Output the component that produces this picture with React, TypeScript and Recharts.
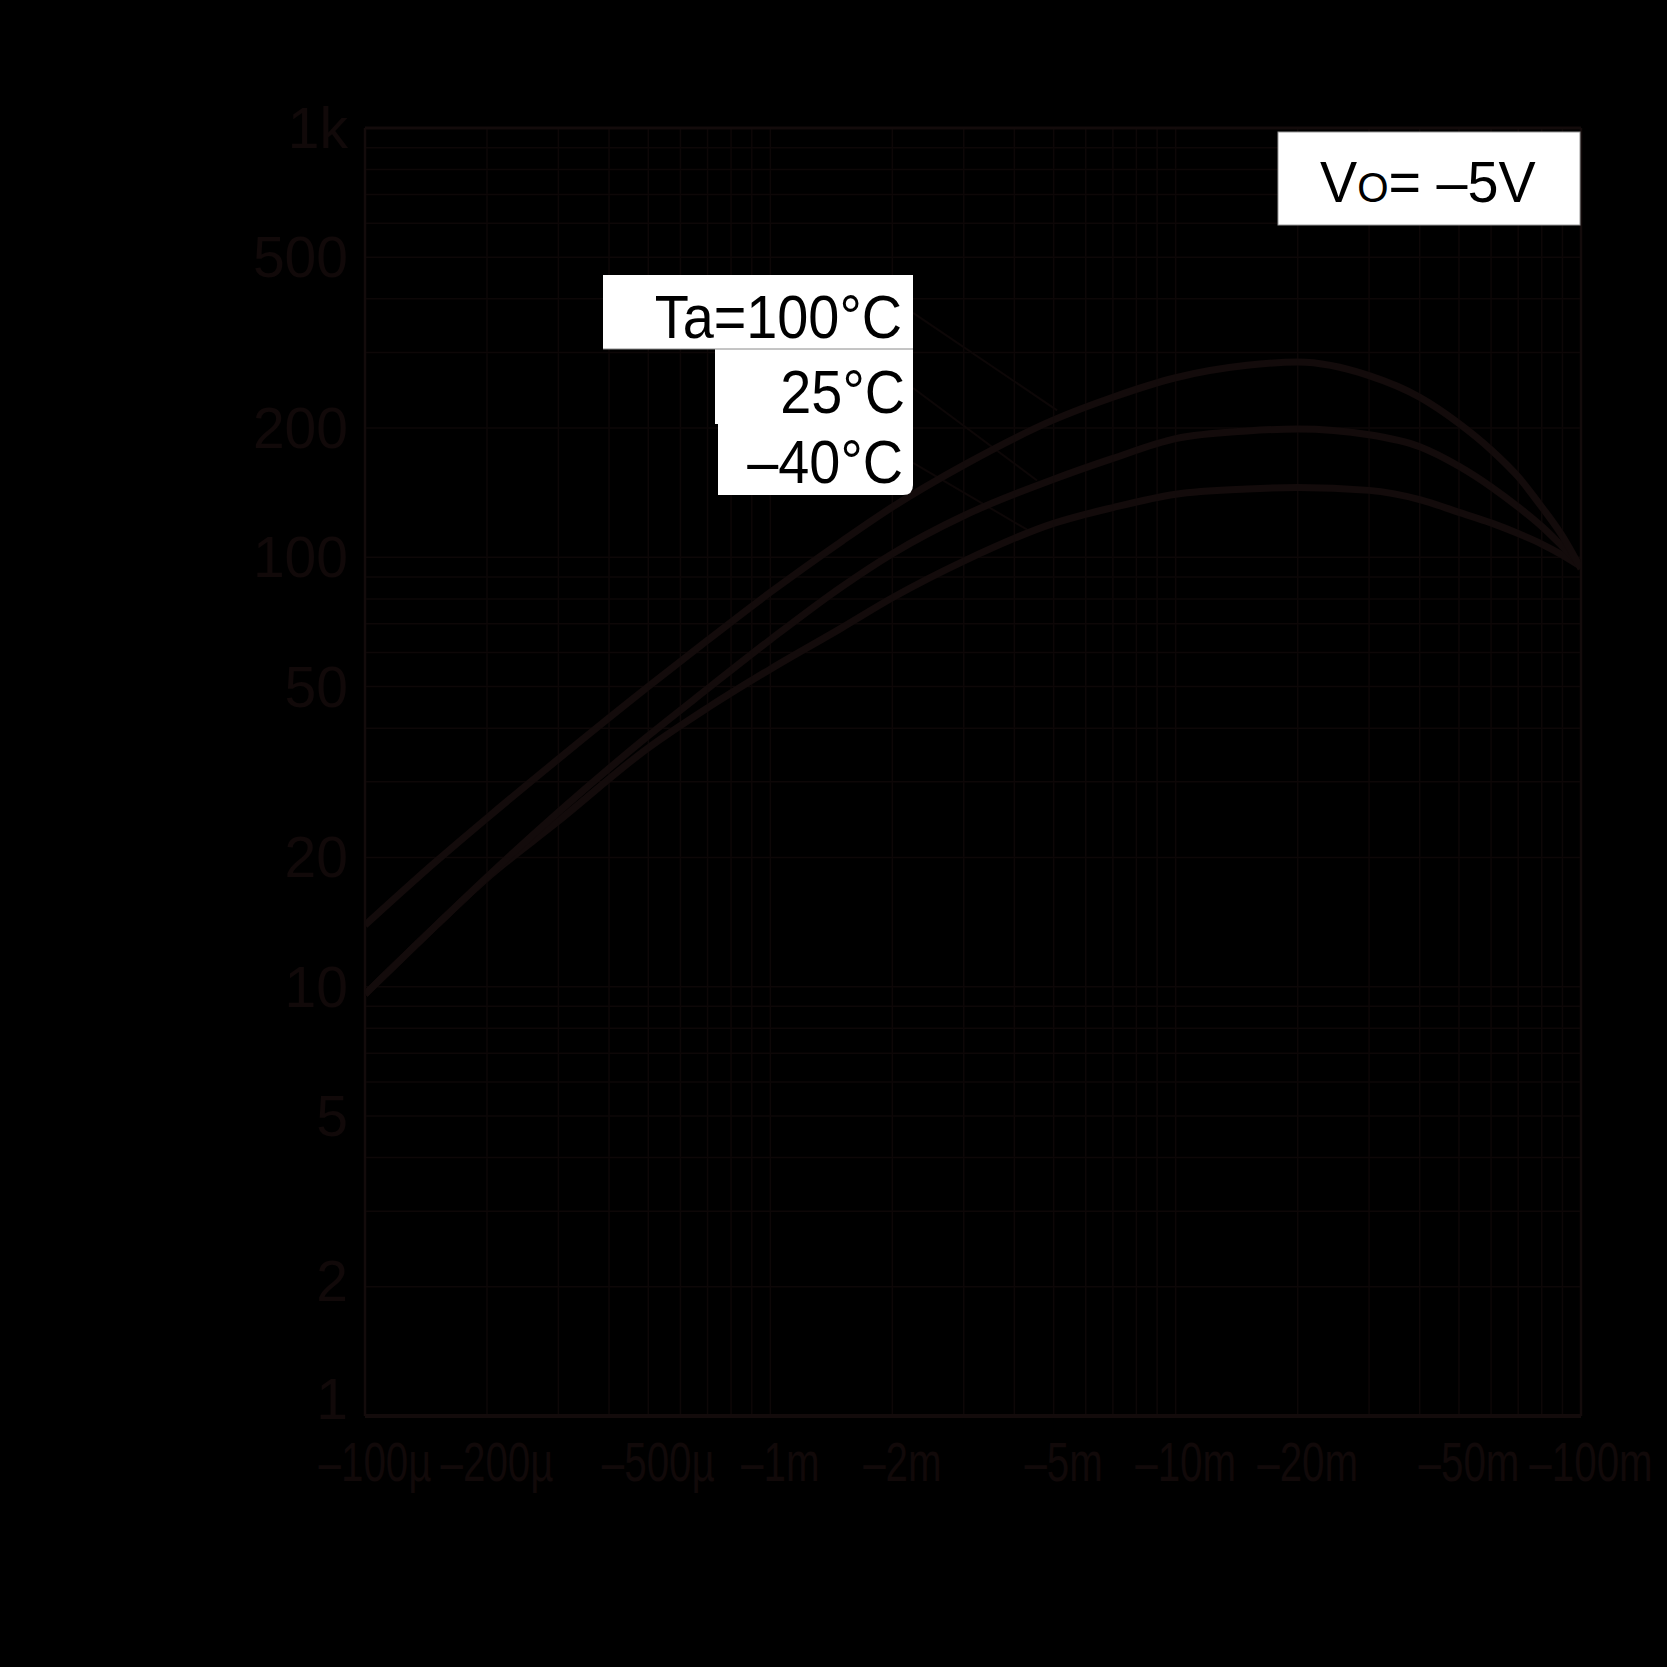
import React from "react";
import { LineChart, Line, XAxis, YAxis, ReferenceLine } from "recharts";

// Collector current (mA, magnitude) — plotted as negative values in labels
const currents = [0.1, 0.15, 0.2, 0.3, 0.5, 0.7, 1, 1.5, 2, 3, 5, 7, 10, 15, 20, 30, 40, 50, 60, 70, 80, 90, 100];
const hfe100 = [13.9, 19.6, 24.7, 33.9, 50, 64.1, 82.9, 109, 131, 164, 209, 236, 262, 280, 285, 265, 236, 205, 178, 154, 131, 112, 94];
const hfe25 = [9.6, 13.9, 18, 25.5, 38.4, 49.4, 64.3, 85.4, 102, 125, 152, 170, 189, 197, 199, 193, 181, 163, 146, 131, 118, 106, 96];
const hfeM40 = [9.6, 13.9, 17.9, 24.3, 36, 44.6, 54.9, 68.5, 80.5, 98, 120, 130.6, 140.3, 144.3, 145.5, 143.2, 136.3, 127.3, 120.3, 113.6, 107.4, 101.2, 95.2];

const xTicks = [0.1, 0.2, 0.5, 1, 2, 5, 10, 20, 50, 100];
const xTickLabels = ["–100µ", "–200µ", "–500µ", "–1m", "–2m", "–5m", "–10m", "–20m", "–50m", "–100m"];
const yTicks = [1, 2, 5, 10, 20, 50, 100, 200, 500, 1000];
const yTickLabels = ["1", "2", "5", "10", "20", "50", "100", "200", "500", "1k"];

const xGrid = [0.2, 0.3, 0.4, 0.5, 0.6, 0.7, 0.8, 0.9, 1, 2, 3, 4, 5, 6, 7, 8, 9, 10, 20, 30, 40, 50, 60, 70, 80, 90];
const yGrid = [2, 3, 4, 5, 6, 7, 8, 9, 10, 20, 30, 40, 50, 60, 70, 80, 90, 100, 200, 300, 400, 500, 600, 700, 800, 900];

// leader lines: [current at label, hFE at label, current at curve, hFE at curve]
const leader100 = [2.25, 371, 5.1, 220];
const leader25 = [2.25, 248, 4.55, 151];
const leaderM40 = [2.25, 166, 4.3, 116];

const data = currents.map((c, i) => ({ i: c, t100: hfe100[i], t25: hfe25[i], tm40: hfeM40[i] }));

const INK = "#130b0b";
const TXT = "#110909";
const GRID = "#0d0707";
const FONT = "'Liberation Sans', Arial, sans-serif";

const XTick = (props: any) => {
  const { x, y, payload } = props;
  const idx = xTicks.indexOf(payload.value);
  return (
    <g transform={`translate(${x + 10},${y + 65}) scale(0.72,1)`}>
      <text textAnchor="middle" fontFamily={FONT} fontSize={56} fill={TXT}>
        {xTickLabels[idx]}
      </text>
    </g>
  );
};

const YTick = (props: any) => {
  const { x, y, payload } = props;
  const idx = yTicks.indexOf(payload.value);
  const lift = payload.value === 1 ? -17 : payload.value === 2 ? -6 : 0;
  return (
    <text x={x - 17} y={y + 20 + lift} textAnchor="end" fontFamily={FONT} fontSize={57} fill={TXT}>
      {yTickLabels[idx]}
    </text>
  );
};

const seg = (l: number[]) => [
  { x: l[0], y: l[1] },
  { x: l[2], y: l[3] },
];

export default function App() {
  return (
    <div style={{ position: "absolute", left: 0, top: 0, width: 1667, height: 1667, background: "#000" }}>
      <LineChart
        width={1667}
        height={1667}
        data={data}
        margin={{ top: 128, right: 86, bottom: 191, left: 265 }}
      >
        <XAxis
          dataKey="i"
          type="number"
          scale="log"
          domain={[0.1, 100]}
          ticks={xTicks}
          allowDataOverflow
          axisLine={false}
          tickLine={false}
          tickSize={0}
          tickMargin={0}
          height={60}
          tick={<XTick />}
          interval={0}
        />
        <YAxis
          type="number"
          scale="log"
          domain={[1, 1000]}
          ticks={yTicks}
          allowDataOverflow
          axisLine={false}
          tickLine={false}
          tickSize={0}
          tickMargin={0}
          width={100}
          tick={<YTick />}
          interval={0}
        />
        {xGrid.map((v) => (
          <ReferenceLine key={"gx" + v} x={v} stroke={GRID} strokeWidth={1.5} />
        ))}
        {yGrid.map((v) => (
          <ReferenceLine key={"gy" + v} y={v} stroke={GRID} strokeWidth={1.5} />
        ))}
        <ReferenceLine x={0.1} stroke={INK} strokeWidth={2.5} />
        <ReferenceLine x={100} stroke={INK} strokeWidth={2.5} />
        <ReferenceLine y={1000} stroke={INK} strokeWidth={3} />
        <ReferenceLine y={1} stroke={INK} strokeWidth={4} />
        <ReferenceLine segment={seg(leader100)} stroke={GRID} strokeWidth={2} />
        <ReferenceLine segment={seg(leader25)} stroke={GRID} strokeWidth={2} />
        <ReferenceLine segment={seg(leaderM40)} stroke={GRID} strokeWidth={2} />
        <Line dataKey="tm40" type="monotone" stroke={INK} strokeWidth={7} dot={false} isAnimationActive={false} />
        <Line dataKey="t25" type="monotone" stroke={INK} strokeWidth={7} dot={false} isAnimationActive={false} />
        <Line dataKey="t100" type="monotone" stroke={INK} strokeWidth={7} dot={false} isAnimationActive={false} />
      </LineChart>
      <svg
        width={1667}
        height={1667}
        style={{ position: "absolute", left: 0, top: 0, pointerEvents: "none" }}
      >
        <rect x={1278} y={132} width={302} height={93} fill="#fff" stroke="#9a9a9a" strokeWidth={1} />
        <g transform="translate(1320,202) scale(0.96,1)">
          <text x={0} y={0} fontFamily={FONT} fontSize={58} fill="#000">
            V<tspan fontSize={42}>O</tspan>= –5V
          </text>
        </g>
        <rect x={603} y={275} width={310} height={74} fill="#fff" />
        <rect x={715} y={349} width={198} height={75} fill="#fff" />
        <path d="M718 424 H913 V485 Q913 495 903 495 H718 Z" fill="#fff" />
        <line x1={603} y1={349} x2={913} y2={349} stroke="#8a8a8a" strokeWidth={1} />
        <g transform="translate(902,338) scale(0.9,1)">
          <text textAnchor="end" fontFamily={FONT} fontSize={62} fill="#000">Ta=100°C</text>
        </g>
        <g transform="translate(905,413) scale(0.9,1)">
          <text textAnchor="end" fontFamily={FONT} fontSize={62} fill="#000">25°C</text>
        </g>
        <g transform="translate(903,483) scale(0.9,1)">
          <text textAnchor="end" fontFamily={FONT} fontSize={62} fill="#000">–40°C</text>
        </g>
      </svg>
    </div>
  );
}
